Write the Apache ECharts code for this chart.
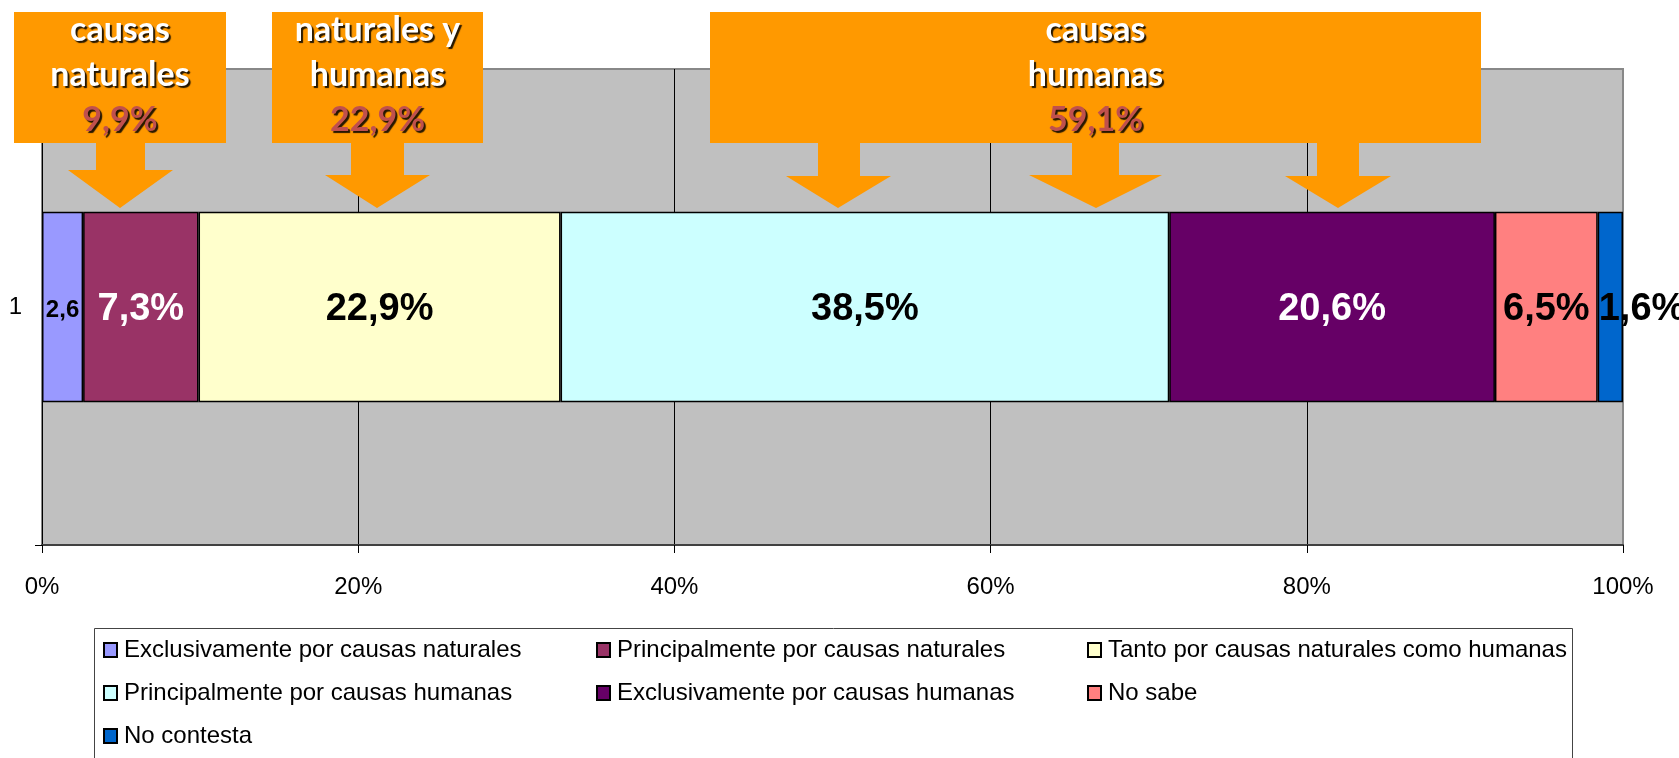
<!DOCTYPE html>
<html>
<head>
<meta charset="utf-8">
<script src="https://cdn.jsdelivr.net/npm/echarts@6/dist/echarts.min.js"></script>
<style>
html,body{margin:0;padding:0;background:#fff;}
#c{width:1679px;height:758px;}
</style>
</head>
<body>
<div id="c"></div>
<script>
// ---- data ----
const categories = ['1'];
const seriesNames = [
  'Exclusivamente por causas naturales',
  'Principalmente por causas naturales',
  'Tanto por causas naturales como humanas',
  'Principalmente por causas humanas',
  'Exclusivamente por causas humanas',
  'No sabe',
  'No contesta'
];
const exclNaturales = [2.6];
const princNaturales = [7.3];
const tanto = [22.9];
const princHumanas = [38.5];
const exclHumanas = [20.6];
const noSabe = [6.5];
const noContesta = [1.6];
const xTicks = [0, 20, 40, 60, 80, 100];

const values = [exclNaturales, princNaturales, tanto, princHumanas, exclHumanas, noSabe, noContesta];
const colors = ['#9999FF', '#993366', '#FFFFCC', '#CCFFFF', '#660066', '#FF8080', '#0066CC'];
const labelColors = ['#000', '#fff', '#000', '#000', '#fff', '#000', '#000'];

const fmt = v => v.toFixed(1).replace('.', ',');

const series = values.map((vals, i) => ({
  name: seriesNames[i],
  type: 'bar',
  stack: 'total',
  barWidth: '40%',
  data: vals,
  itemStyle: { color: colors[i], borderColor: '#000', borderWidth: 1.5 },
  label: {
    show: true,
    position: i === 6 ? 'insideLeft' : 'inside',
    distance: 1,
    offset: [0, 3],
    color: labelColors[i],
    fontFamily: 'Liberation Sans, Arial, sans-serif',
    fontWeight: 'bold',
    fontSize: i === 0 ? 24 : 38,
    formatter: p => i === 0 ? fmt(p.value) : fmt(p.value) + '%'
  },
  emphasis: { disabled: true }
}));

const legendBase = {
  orient: 'vertical',
  top: 638,
  padding: 0,
  itemGap: 19,
  itemWidth: 13,
  itemHeight: 14,
  icon: 'rect',
  selectedMode: false,
  textStyle: { fontSize: 24, lineHeight: 24, color: '#000', fontFamily: 'Liberation Sans, Arial, sans-serif', padding: [0, 0, 0, 2] }
};

const chart = echarts.init(document.getElementById('c'));
chart.setOption({
  animation: false,
  backgroundColor: '#fff',
  grid: {
    left: 42, right: 56, top: 69, bottom: 213,
    show: true, backgroundColor: '#C0C0C0', borderColor: '#888', borderWidth: 2
  },
  xAxis: {
    type: 'value', min: xTicks[0], max: xTicks[xTicks.length - 1], interval: xTicks[1] - xTicks[0],
    axisLine: { show: true, lineStyle: { color: '#404040', width: 2 } },
    axisTick: { show: true, length: 8, lineStyle: { color: '#000' } },
    axisLabel: { formatter: '{value}%', fontSize: 24, color: '#000', margin: 30, fontFamily: 'Liberation Sans, Arial, sans-serif' },
    splitLine: { show: true, showMinLine: false, showMaxLine: false, lineStyle: { color: '#000', width: 1 } }
  },
  yAxis: {
    type: 'category', data: categories,
    axisLine: { show: true, lineStyle: { color: '#000', width: 1 } },
    axisTick: { show: true, length: 7, lineStyle: { color: '#000' } },
    axisLabel: { fontSize: 24, color: '#000', margin: 20, fontFamily: 'Liberation Sans, Arial, sans-serif' }
  },
  legend: [
    Object.assign({}, legendBase, { left: 103, data: [seriesNames[0], seriesNames[3], seriesNames[6]] }),
    Object.assign({}, legendBase, { left: 596, data: [seriesNames[1], seriesNames[4]] }),
    Object.assign({}, legendBase, { left: 1087, data: [seriesNames[2], seriesNames[5]] })
  ],
  series: series
});

// ---- callout annotations ----
const sumNat = exclNaturales[0] + princNaturales[0];
const sumTanto = tanto[0];
const sumHum = princHumanas[0] + exclHumanas[0];

const callouts = [
  { box: [14, 12, 226, 143], lines: ['causas', 'naturales'], pct: fmt(sumNat) + '%',
    arrows: [{ s: [96, 145], h: [68, 173], ht: 170, tip: 120 }] },
  { box: [272, 12, 483, 143], lines: ['naturales y', 'humanas'], pct: fmt(sumTanto) + '%',
    arrows: [{ s: [351, 404], h: [325, 430], ht: 175, tip: 377 }] },
  { box: [710, 12, 1481, 143], lines: ['causas', 'humanas'], pct: fmt(sumHum) + '%',
    arrows: [
      { s: [818, 860], h: [786, 891], ht: 176, tip: 838 },
      { s: [1072, 1119], h: [1029, 1162], ht: 175, tip: 1096 },
      { s: [1317, 1359], h: [1285, 1391], ht: 176, tip: 1338 }
    ] }
];

const ORANGE = '#FF9900';
const graphics = [];
callouts.forEach(c => {
  const [x0, y0, x1, y1] = c.box;
  graphics.push({ type: 'rect', z: 100, shape: { x: x0, y: y0, width: x1 - x0, height: y1 - y0 }, style: { fill: ORANGE } });
  c.arrows.forEach(a => {
    graphics.push({ type: 'polygon', z: 100, shape: { points: [
      [a.s[0], y1 - 1], [a.s[1], y1 - 1], [a.s[1], a.ht], [a.h[1], a.ht], [a.tip, 208], [a.h[0], a.ht], [a.s[0], a.ht]
    ] }, style: { fill: ORANGE } });
  });
  const cx = (x0 + x1) / 2;
  const texts = [c.lines[0], c.lines[1], c.pct];
  texts.forEach((t, k) => {
    graphics.push({ type: 'text', z: 101, x: cx, y: 30 + 45 * k, style: {
      text: t, fill: k === 2 ? '#C0504D' : '#fff',
      font: 'bold 34px Lato, "Open Sans", sans-serif',
      align: 'center', verticalAlign: 'middle',
      textShadowColor: 'rgba(0,0,0,0.85)', textShadowOffsetX: 2, textShadowOffsetY: 2, textShadowBlur: 1
    } });
  });
});
// legend frame
graphics.push({ type: 'rect', z: 1, shape: { x: 94.5, y: 628.5, width: 1478, height: 200 }, style: { fill: 'none', stroke: '#444', lineWidth: 1 } });

chart.setOption({ graphic: graphics });
</script>
</body>
</html>
